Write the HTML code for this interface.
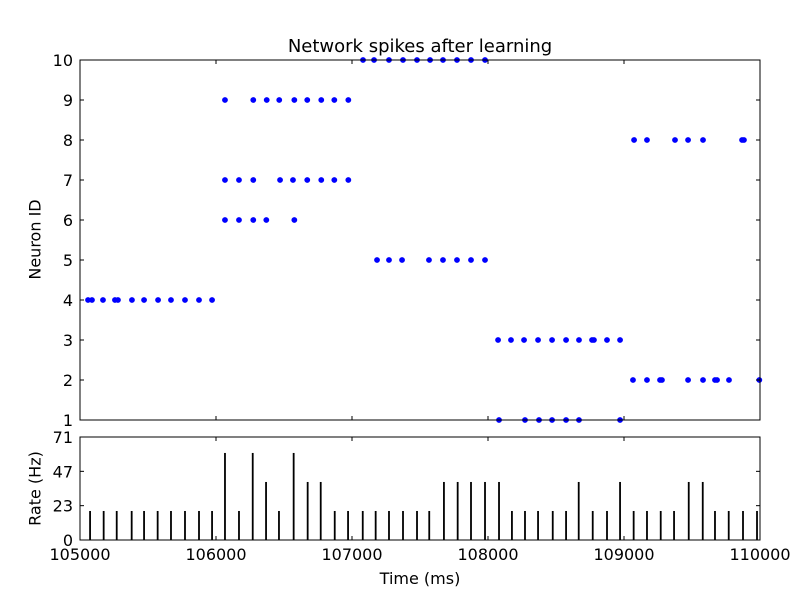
<!DOCTYPE html>
<html><head><meta charset="utf-8"><style>
body{margin:0;background:#fff;}
svg{display:block;font-family:"DejaVu Sans","Liberation Sans",sans-serif;}
</style></head><body>
<svg id="chart" width="800" height="600" viewBox="0 0 800 600" xmlns="http://www.w3.org/2000/svg">
<rect width="800" height="600" fill="#fff"/>
</svg>
<script>
const neuronIds = [1,2,3,4,5,6,7,8,9,10];
const spikes1 = [108081,108272,108375,108471,108574,108669,108971];
const spikes2 = [109066,109169,109265,109279,109471,109581,109669,109684,109772,109995];
const spikes3 = [108074,108169,108265,108368,108471,108574,108669,108765,108779,108875,108971];
const spikes4 = [105059,105088,105169,105257,105279,105382,105471,105574,105669,105772,105875,105971];
const spikes5 = [107184,107272,107368,107566,107669,107772,107875,107978];
const spikes6 = [106066,106169,106274,106370,106576];
const spikes7 = [106066,106169,106274,106471,106566,106671,106774,106870,106973];
const spikes8 = [109074,109169,109375,109471,109581,109868,109882];
const spikes9 = [106066,106274,106373,106465,106576,106671,106774,106870,106973];
const spikes10 = [107081,107162,107272,107375,107478,107574,107669,107772,107875,107978];
const rateTimes = [105074,105174,105270,105380,105471,105571,105669,105772,105875,105971,106066,106169,106270,106368,106463,106571,106674,106770,106873,106971,107079,107174,107272,107375,107478,107568,107676,107777,107875,107978,108081,108176,108272,108368,108476,108574,108667,108770,108875,108971,109071,109169,109270,109368,109476,109579,109669,109770,109875,109978];
const rateValues = [20,20,20,20,20,20,20,20,20,20,60,20,60,40,20,60,40,40,20,20,20,20,20,20,20,20,40,40,40,40,40,20,20,20,20,20,40,20,20,40,20,20,20,20,40,40,20,20,20,20];
const xTicks = [105000,106000,107000,108000,109000,110000];
const yTicksTop = [1,2,3,4,5,6,7,8,9,10];
const yTicksRate = [0,23,47,71];
const yTickRateValues = [0,23.667,47.333,71];

const svg = document.getElementById('chart');
const NS = 'http://www.w3.org/2000/svg';
const L=80,R=760,T1=60,B1=420,T2=437,B2=540;
const xS = t => L + (t-105000)/5000*(R-L);
const yTop = n => B1 - (n-1)/9*(B1-T1);
const yRate = v => B2 - v/71*(B2-T2);
function mk(tag, attrs, parent){const e=document.createElementNS(NS,tag);for(const k in attrs)e.setAttribute(k,attrs[k]);(parent||svg).appendChild(e);return e;}

const allSpikes=[spikes1,spikes2,spikes3,spikes4,spikes5,spikes6,spikes7,spikes8,spikes9,spikes10];
const gDots = mk('g',{});


allSpikes.forEach((arr,i)=>{arr.forEach(t=>{
  const c=mk('circle',{cx:xS(t),cy:yTop(neuronIds[i]),r:2.9,fill:'#0000ff'},gDots);
  
  
});});

const gBars = mk('g',{});


rateTimes.forEach((t,i)=>{
  const b=mk('rect',{x:xS(t)-0.9,y:yRate(rateValues[i]),width:1.8,height:B2-yRate(rateValues[i]),fill:'#000'},gBars);
  
  
});

const f1=mk('rect',{x:L,y:T1,width:R-L,height:B1-T1,fill:'none',stroke:'#000','stroke-width':1});


const f2=mk('rect',{x:L,y:T2,width:R-L,height:B2-T2,fill:'none',stroke:'#000','stroke-width':1});



xTicks.forEach(t=>{
  const x=xS(t);
  mk('line',{x1:x,y1:B1,x2:x,y2:B1-4,stroke:'#000'});
  mk('line',{x1:x,y1:T1,x2:x,y2:T1+4,stroke:'#000'});
  mk('line',{x1:x,y1:B2,x2:x,y2:B2-4,stroke:'#000'});
  mk('line',{x1:x,y1:T2,x2:x,y2:T2+4,stroke:'#000'});
  const tx=mk('text',{x:x,y:B2+20,'font-size':16,'text-anchor':'middle'});
  tx.textContent=t;
  
  
});
yTicksTop.forEach(n=>{
  const y=yTop(n);
  mk('line',{x1:L,y1:y,x2:L+4,y2:y,stroke:'#000'});
  mk('line',{x1:R,y1:y,x2:R-4,y2:y,stroke:'#000'});
  const tx=mk('text',{x:L-7,y:y+6,'font-size':16,'text-anchor':'end'});
  tx.textContent=n;
  
  
});
yTicksRate.forEach((lab,i)=>{
  const y=yRate(yTickRateValues[i]);
  mk('line',{x1:L,y1:y,x2:L+4,y2:y,stroke:'#000'});
  mk('line',{x1:R,y1:y,x2:R-4,y2:y,stroke:'#000'});
  const tx=mk('text',{x:L-7,y:y+6,'font-size':16,'text-anchor':'end'});
  tx.textContent=lab;
  
  
});
</script>
<div style="position:absolute;left:0;top:0;width:800px;height:600px;pointer-events:none;font-family:'DejaVu Sans','Liberation Sans',sans-serif;">
<div style="position:absolute;left:0;width:840px;top:36px;text-align:center;font-size:18px;">Network spikes after learning</div>
<div style="position:absolute;left:0;width:840px;top:569px;text-align:center;font-size:16px;">Time (ms)</div>
<div style="position:absolute;left:-15px;top:230px;width:100px;text-align:center;font-size:16px;transform:rotate(-90deg);">Neuron ID</div>
<div style="position:absolute;left:-15px;top:479px;width:100px;text-align:center;font-size:16px;transform:rotate(-90deg);">Rate (Hz)</div>
</div>
</body></html>
